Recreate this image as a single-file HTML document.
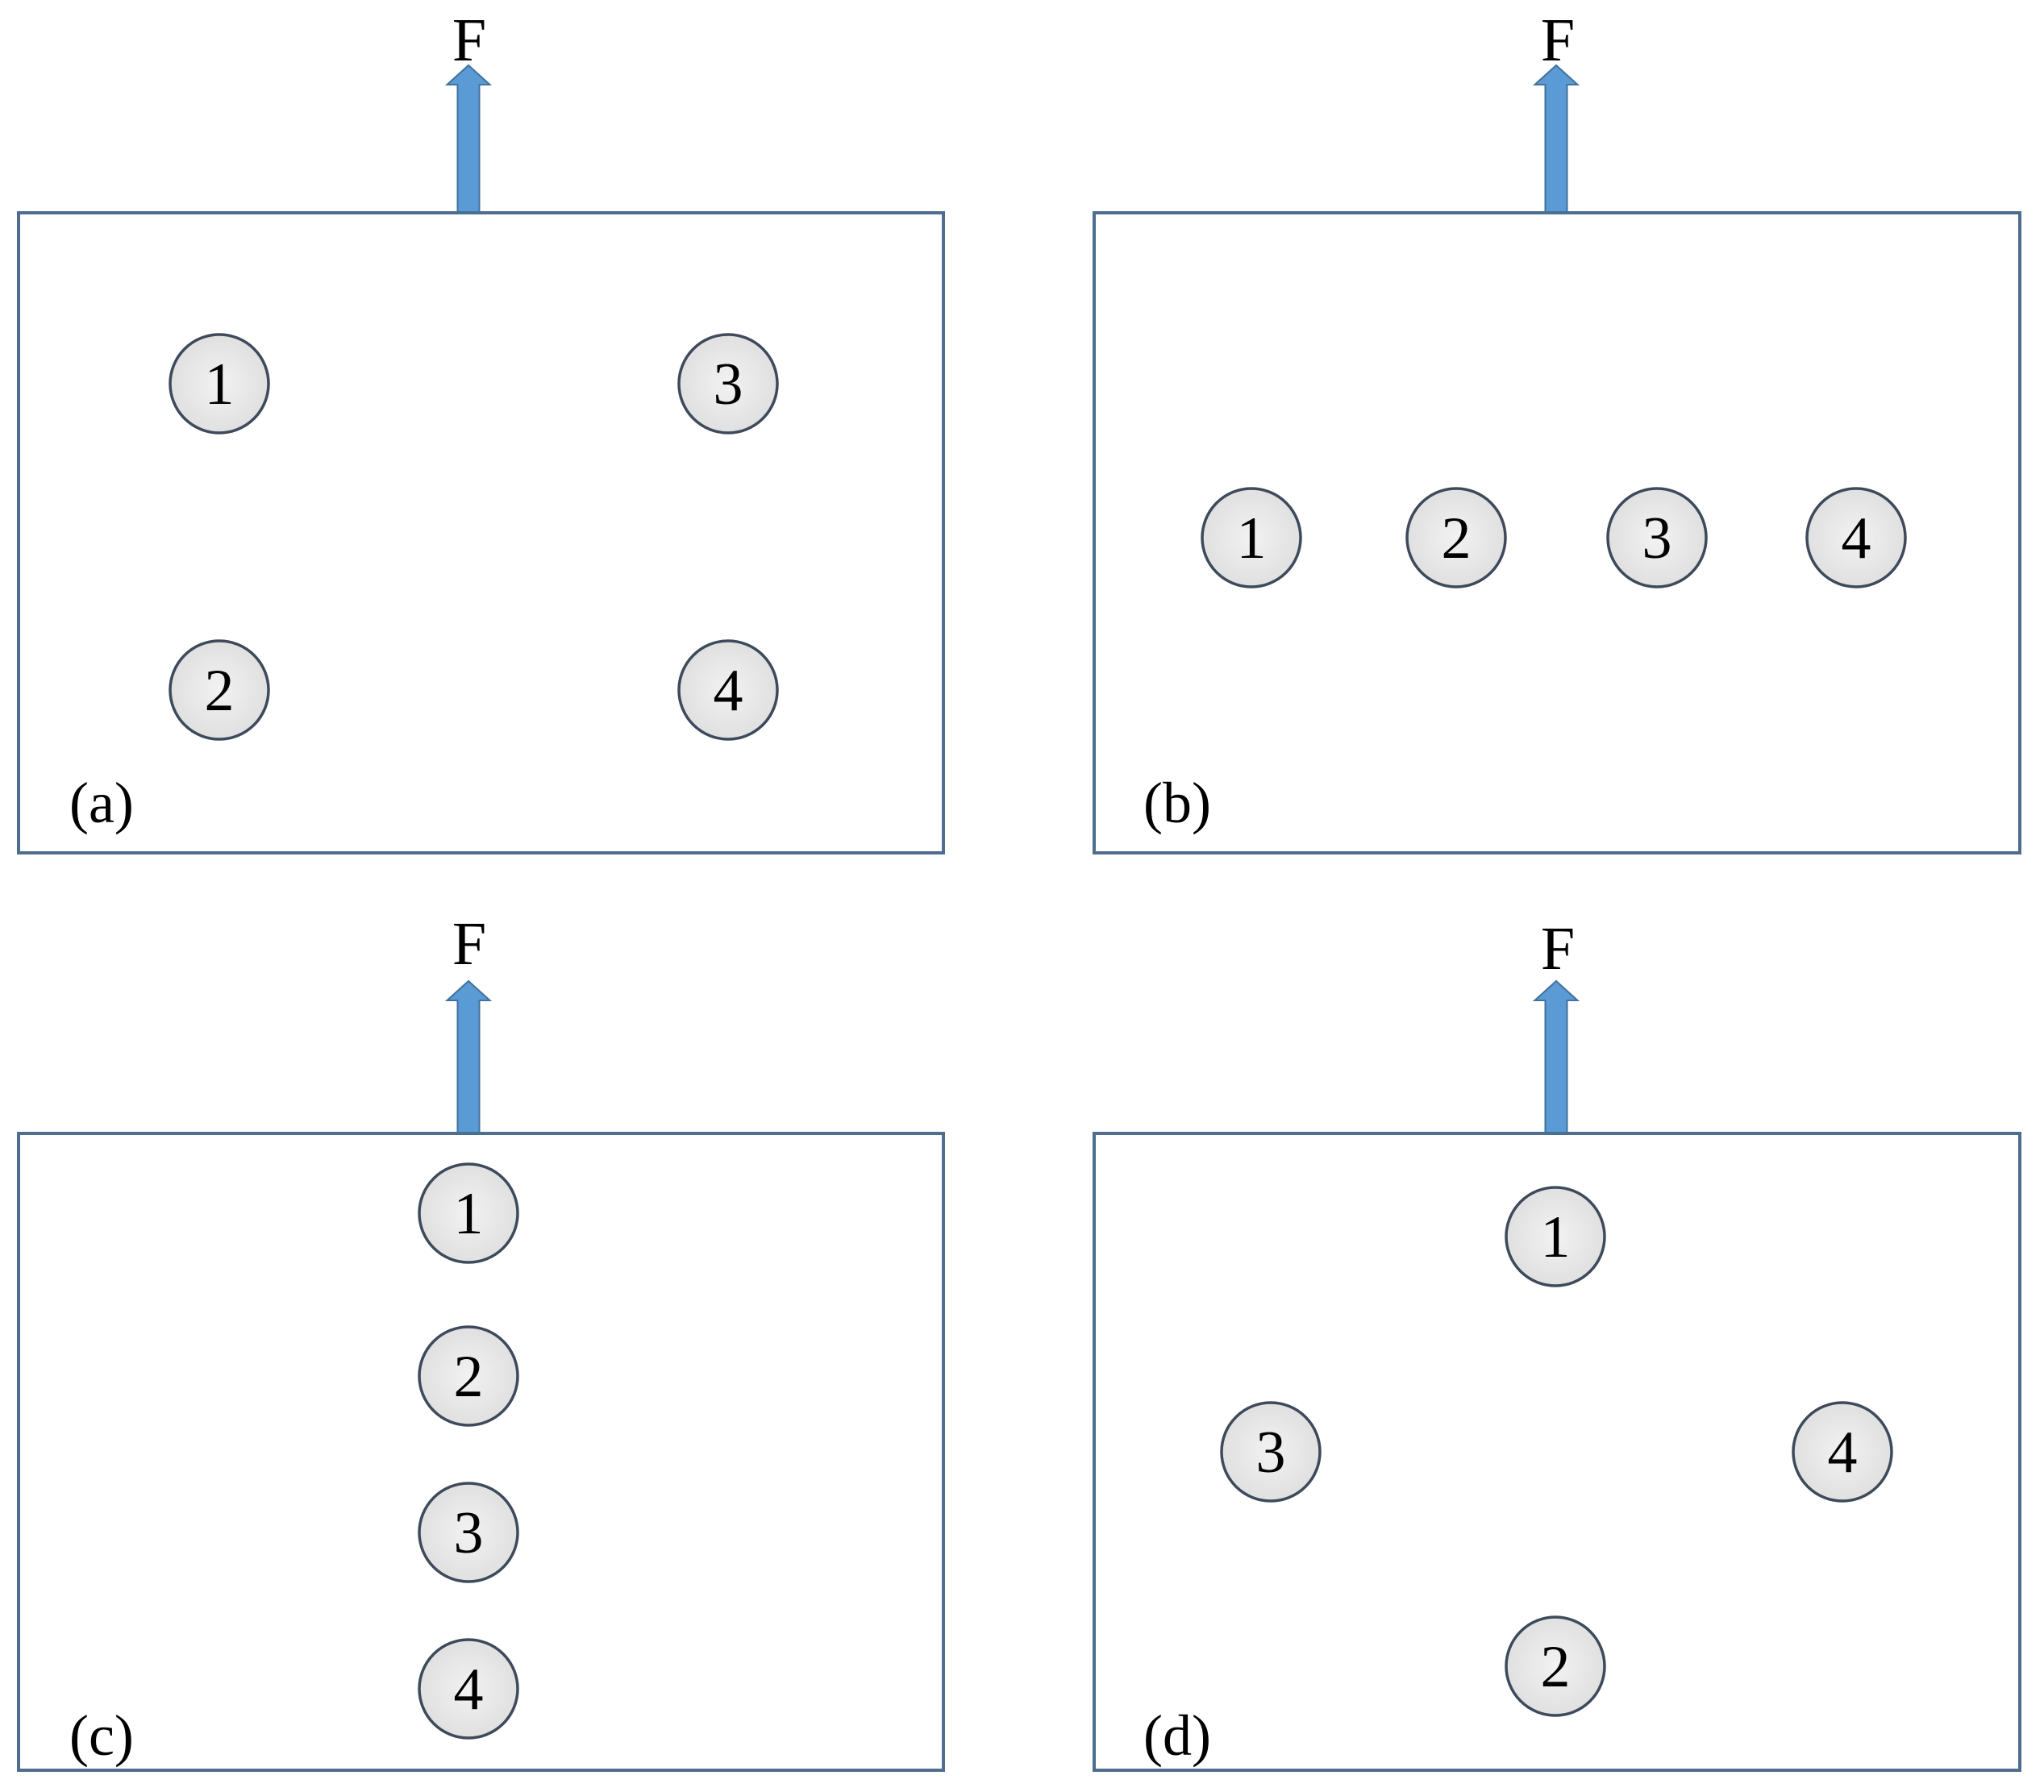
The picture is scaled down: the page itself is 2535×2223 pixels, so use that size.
<!DOCTYPE html>
<html><head><meta charset="utf-8"><style>
html,body{margin:0;padding:0;background:#fff;}
svg{display:block;}
text{font-family:"Liberation Serif",serif;fill:#000;}
</style></head><body>
<svg width="2535" height="2223" viewBox="0 0 2535 2223" xmlns="http://www.w3.org/2000/svg">
<defs>
<radialGradient id="g" cx="50%" cy="50%" r="50%">
<stop offset="0" stop-color="#f2f2f2"/><stop offset="1" stop-color="#e0e0e0"/>
</radialGradient>
<g id="arrow">
<path d="M-13.5,0 L-13.5,-158 L-26.5,-158 L0,-182 L26.5,-158 L13.5,-158 L13.5,0 Z" fill="#5b9bd5" stroke="#41719c" stroke-width="2"/>
</g>
<g id="arrow2">
<path d="M-13.5,0 L-13.5,-164 L-26.5,-164 L0,-188 L26.5,-164 L13.5,-164 L13.5,0 Z" fill="#5b9bd5" stroke="#41719c" stroke-width="2"/>
</g>
</defs>
<g fill="none" stroke="#4f6e8f" stroke-width="4">
<rect x="23" y="264" width="1147" height="794"/>
<rect x="1357" y="264" width="1148" height="794"/>
<rect x="23" y="1406" width="1147" height="790"/>
<rect x="1357" y="1406" width="1148" height="790"/>
</g>
<use href="#arrow" x="581" y="263"/>
<use href="#arrow" x="1930" y="263"/>
<use href="#arrow2" x="581" y="1405"/>
<use href="#arrow2" x="1930" y="1405"/>
<g font-size="76" text-anchor="middle">
<text x="582" y="75">F</text>
<text x="1932" y="75">F</text>
<text x="582" y="1196">F</text>
<text x="1932" y="1202">F</text>
</g>
<g fill="url(#g)" stroke="#3e4a5c" stroke-width="3.5">
<circle cx="272" cy="476" r="61"/><circle cx="903" cy="476" r="61"/>
<circle cx="272" cy="856" r="61"/><circle cx="903" cy="856" r="61"/>
<circle cx="1552" cy="667" r="61"/><circle cx="1806" cy="667" r="61"/>
<circle cx="2055" cy="667" r="61"/><circle cx="2302" cy="667" r="61"/>
<circle cx="581" cy="1505" r="61"/><circle cx="581" cy="1707" r="61"/>
<circle cx="581" cy="1901" r="61"/><circle cx="581" cy="2095" r="61"/>
<circle cx="1929" cy="1534" r="61"/><circle cx="1576" cy="1801" r="61"/>
<circle cx="2285" cy="1801" r="61"/><circle cx="1929" cy="2067" r="61"/>
</g>
<g font-size="74" text-anchor="middle">
<text x="272" y="501">1</text><text x="903" y="501">3</text>
<text x="272" y="881">2</text><text x="903" y="881">4</text>
<text x="1552" y="692">1</text><text x="1806" y="692">2</text>
<text x="2055" y="692">3</text><text x="2302" y="692">4</text>
<text x="581" y="1530">1</text><text x="581" y="1732">2</text>
<text x="581" y="1926">3</text><text x="581" y="2120">4</text>
<text x="1929" y="1559">1</text><text x="1576" y="1826">3</text>
<text x="2285" y="1826">4</text><text x="1929" y="2092">2</text>
</g>
<g font-size="72">
<text x="86" y="1020">(a)</text>
<text x="1418" y="1020">(b)</text>
<text x="86" y="2177">(c)</text>
<text x="1418" y="2177">(d)</text>
</g>
</svg>
</body></html>
